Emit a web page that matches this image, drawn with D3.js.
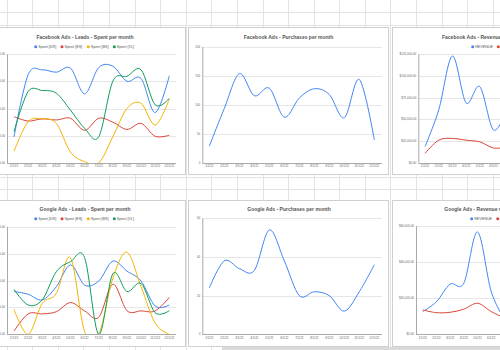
<!DOCTYPE html>
<html><head><meta charset="utf-8">
<script src="https://cdn.jsdelivr.net/npm/d3@7"></script>
<style>body{margin:0;background:#fff}svg{display:block;font-family:"Liberation Sans",Arial,sans-serif}</style>
</head><body><svg id="c" width="500" height="350"></svg>
<script>
// ---------- data ----------
const months = ["1/1/22","2/1/22","3/1/22","4/1/22","5/1/22","6/1/22","7/1/22","8/1/22","9/1/22","10/1/22","11/1/22","12/1/22"];
const leadsLabels = ["Spent [DR]","Spent [ES]","Spent [BS]","Spent [VL]"];
const revenueLabels = ["REVENUE","SPENT"];

const fbSpentDR = [240,810,855,833,870,635,875,888,750,775,463,800];
const fbSpentES = [425,385,405,395,410,300,410,375,308,363,245,255];
const fbSpentBS = [108,378,405,363,100,13,0,240,500,548,348,585];
const fbSpentVL = [288,655,665,640,485,318,240,750,795,855,533,593];
const fbLeadsTicks = [0,250,500,750,1000];

const fbPurchases = [29,94,154,116,129,79,112,128,118,78,144,40];
const fbPurchasesTicks = [0,50,100,150,200];

const fbRevenue = [18500,60800,123000,69000,87700,37700,62000,null,null,null,null,null];
const fbSpent = [10800,26000,28000,26000,24000,17000,18000,null,null,null,null,null];
const fbRevenueTicks = [0,25000,50000,75000,100000,125000];

const gSpentDR = [159,149,128,177,258,183,198,272,235,198,105,109];
const gSpentES = [12,76,76,84,118,87,63,186,88,87,87,137];
const gSpentBS = [93,0,115,152,285,10,0,208,305,177,41,0];
const gSpentVL = [167,109,128,233,270,285,0,225,159,189,80,88];
const gLeadsTicks = [0,100,200,300,400];

const gPurchases = [24,38,34,33,54,38,20,22,20,12,22,36];
const gPurchasesTicks = [0,20,40,60];

const gRevenue = [12600,18000,27800,28300,56700,23700,8000,null,null,null,null,null];
const gSpent = [13500,12000,12200,13900,17200,12600,9000,null,null,null,null,null];
const gRevenueTicks = [0,20000,40000,60000];

const colors = ["#4285F4","#DB4437","#F4B400","#0F9D58"];

// ---------- drawing ----------
const svg = d3.select("#c");
svg.append("rect").attr("width",500).attr("height",350).attr("fill","#fff");

// spreadsheet grid
const sheet = svg.append("g").attr("stroke","#e3e3e3").attr("stroke-width",1);
d3.range(20).forEach(n=>{
  const x = Math.round(6.7+25.58*n)+0.5;
  sheet.append("line").attr("x1",x).attr("x2",x).attr("y1",0).attr("y2",350);
});
[12.5,25.5,177.5,189.5].forEach(y=>sheet.append("line").attr("x1",0).attr("x2",500).attr("y1",y).attr("y2",y));
svg.append("rect").attr("x",222).attr("y",347).attr("width",278).attr("height",3).attr("fill","#dadada");

const money = d=>"$"+d3.format(",.2f")(d);
const plain = d=>d3.format("d")(d);

let clipId = 0;
function chart(cfg){
  const g = svg.append("g");
  g.append("rect").attr("x",cfg.panel[0]+0.5).attr("y",cfg.panel[1]+0.5)
    .attr("width",cfg.panel[2]).attr("height",cfg.panel[3])
    .attr("fill","#fff").attr("stroke","#cfcfcf");
  const x = d3.scalePoint().domain(months).range(cfg.xRange);
  const y = d3.scaleLinear().domain([cfg.ticks[0],cfg.ticks[cfg.ticks.length-1]]).range(cfg.yRange);
  const x0 = cfg.axisX, x1 = cfg.xEnd;
  // gridlines
  g.append("g").selectAll("line").data(cfg.ticks.slice(1)).join("line")
    .attr("x1",x0).attr("x2",x1).attr("y1",d=>Math.round(y(d))+0.5).attr("y2",d=>Math.round(y(d))+0.5)
    .attr("stroke","#e6e6e6");
  // y labels
  g.append("g").selectAll("text").data(cfg.ticks).join("text")
    .attr("x",x0-2).attr("y",d=>y(d)+1).attr("text-anchor","end")
    .attr("font-size",3).attr("fill","#666").text(cfg.fmt);
  // x labels
  g.append("g").selectAll("text").data(months).join("text")
    .attr("x",d=>x(d)).attr("y",cfg.yRange[0]+4.3).attr("text-anchor","middle")
    .attr("font-size",3).attr("fill","#666").text(d=>d);
  // lines
  const id = "clip"+(clipId++);
  g.append("clipPath").attr("id",id).append("rect")
    .attr("x",x0).attr("y",cfg.yRange[1]-1).attr("width",x1-x0).attr("height",cfg.yRange[0]-cfg.yRange[1]+1);
  const line = d3.line().defined(d=>d[1]!=null).x(d=>x(d[0])).y(d=>y(d[1])).curve(d3.curveCatmullRom.alpha(0));
  const lg = g.append("g").attr("clip-path",`url(#${id})`);
  cfg.series.forEach((s,i)=>{
    lg.append("path").datum(months.map((m,j)=>[m,s[j]])).attr("d",line)
      .attr("fill","none").attr("stroke",colors[i]).attr("stroke-width",1);
  });
  // axes
  g.append("line").attr("x1",x0).attr("x2",x1).attr("y1",Math.round(cfg.yRange[0])+0.5).attr("y2",Math.round(cfg.yRange[0])+0.5).attr("stroke","#aaa");
  g.append("line").attr("x1",x0+0.5).attr("x2",x0+0.5).attr("y1",cfg.yRange[1]).attr("y2",cfg.yRange[0]).attr("stroke","#aaa");
  // title
  g.append("text").attr("x",cfg.title[1]).attr("y",cfg.title[2]).attr("text-anchor",cfg.title[3]||"middle")
    .attr("font-size",5).attr("font-weight","bold").attr("fill","#555").text(cfg.title[0]);
  // legend
  if(cfg.legend){
    cfg.legend.labels.forEach((l,i)=>{
      const lx = cfg.legend.xs[i];
      g.append("circle").attr("cx",lx).attr("cy",cfg.legend.y).attr("r",1.5).attr("fill",colors[i]);
      g.append("text").attr("x",lx+2.5).attr("y",cfg.legend.y+1.3).attr("font-size",3.7).attr("fill","#555").text(l);
    });
  }
}

chart({panel:[-1,27,186,147], title:["Facebook Ads - Leads - Spent per month",85,38.5],
  legend:{labels:leadsLabels,xs:[35.7,62,88.3,114.3],y:46.7},
  xRange:[14,169.3], axisX:7, xEnd:176, yRange:[163,54], ticks:fbLeadsTicks, fmt:money,
  series:[fbSpentDR,fbSpentES,fbSpentBS,fbSpentVL]});

chart({panel:[188,27,200,147], title:["Facebook Ads - Purchases per month",288.5,38.5],
  xRange:[209.3,374.3], axisX:202.3, xEnd:382, yRange:[163,47], ticks:fbPurchasesTicks, fmt:plain,
  series:[fbPurchases]});

chart({panel:[392,27,220,147], title:["Facebook Ads - Revenue vs Spent per month",442,38.5,"start"],
  legend:{labels:revenueLabels,xs:[472.7,498.3],y:46.7},
  xRange:[425,425+11*13.7], axisX:418.3, xEnd:585, yRange:[162.7,54.3], ticks:fbRevenueTicks, fmt:money,
  series:[fbRevenue,fbSpent]});

chart({panel:[-1,200,186,146], title:["Google Ads - Leads - Spent per month",85,210.8],
  legend:{labels:leadsLabels,xs:[35.7,62,88.3,114.3],y:218.7},
  xRange:[14,169.3], axisX:7, xEnd:176, yRange:[334.3,226.7], ticks:gLeadsTicks, fmt:money,
  series:[gSpentDR,gSpentES,gSpentBS,gSpentVL]});

chart({panel:[188,200,200,146], title:["Google Ads - Purchases per month",289,210.8],
  xRange:[209.3,374.3], axisX:202.3, xEnd:382, yRange:[334.3,218.3], ticks:gPurchasesTicks, fmt:plain,
  series:[gPurchases]});

chart({panel:[392,200,220,146], title:["Google Ads - Revenue vs Spent per month",444.3,210.8,"start"],
  legend:{labels:revenueLabels,xs:[471.7,497.7],y:218.7},
  xRange:[422.7,422.7+11*13.7], axisX:416, xEnd:585, yRange:[334.3,226], ticks:gRevenueTicks, fmt:money,
  series:[gRevenue,gSpent]});
</script></body></html>
